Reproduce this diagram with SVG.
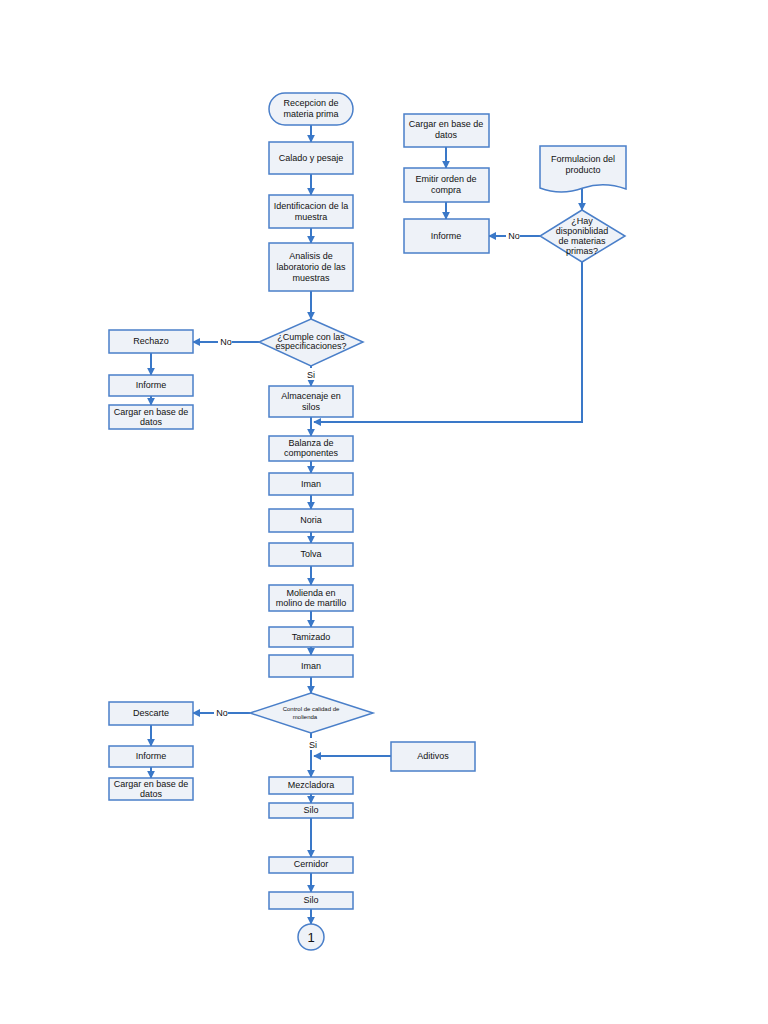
<svg xmlns="http://www.w3.org/2000/svg" width="768" height="1024" viewBox="0 0 768 1024">
<defs>
<marker id="ah" viewBox="0 0 10 10" refX="9" refY="5" markerWidth="4" markerHeight="4" orient="auto"><path d="M0,0 L10,5 L0,10 z" fill="#3a78c8"/></marker>
<style>
.b{fill:#eef2f8;stroke:#4a7fc9;stroke-width:1.5}
.c{fill:none;stroke:#3a78c8;stroke-width:2;marker-end:url(#ah)}
.l{fill:none;stroke:#3a78c8;stroke-width:1.5}
text{font-family:"Liberation Sans",Arial,sans-serif;font-size:9px;fill:#111;text-anchor:middle}
.s{font-size:6px}
</style>
</defs>
<rect width="768" height="1024" fill="#fff"/>
<g id="connectors">
<path class="c" d="M311,125 V142"/><path class="c" d="M311,174 V195"/><path class="c" d="M311,228 V243"/><path class="c" d="M311,291 V319"/>
<path class="c" d="M259,342 H193"/><path class="c" d="M151,353 V375"/><path class="c" d="M151,396 V405"/>
<path class="c" d="M311,366 V386"/><path class="c" d="M311,417 V436"/>
<path class="c" d="M582,262 V422 H314"/>
<path class="c" d="M311,461 V473"/><path class="c" d="M311,495 V509"/><path class="c" d="M311,532 V543"/><path class="c" d="M311,566 V585"/><path class="c" d="M311,611 V627"/><path class="c" d="M311,647 V655"/><path class="c" d="M311,677 V693"/>
<path class="c" d="M250,713 H193"/><path class="c" d="M151,725 V746"/><path class="c" d="M151,767 V778"/>
<path class="c" d="M311,733 V777"/><path class="c" d="M391,756 H314"/>
<path class="c" d="M311,794 V803"/><path class="c" d="M311,818 V857"/><path class="c" d="M311,873 V892"/><path class="c" d="M311,909 V924"/>
<path class="c" d="M446,147 V168"/><path class="c" d="M446,202 V219"/><path class="c" d="M582,188 V210"/><path class="c" d="M540,236 H489"/>
<rect x="218" y="336" width="14" height="11" fill="#fff"/><text x="226" y="345">No</text>
<rect x="214" y="707" width="14" height="11" fill="#fff"/><text x="222" y="716">No</text>
<rect x="506" y="230" width="14" height="11" fill="#fff"/><text x="514" y="239">No</text>
<rect x="305" y="368" width="12" height="12" fill="#fff"/><text x="311" y="378">Si</text>
<rect x="305" y="738" width="12" height="12" fill="#fff"/><text x="313" y="748">Si</text>
</g>
<g id="n1"><rect class="b" x="269" y="93" width="84" height="32" rx="16"/><text x="311" y="106">Recepcion de</text><text x="311" y="117">materia prima</text></g>
<g id="n2"><rect class="b" x="269" y="142" width="84" height="32"/><text x="311" y="161">Calado y pesaje</text></g>
<g id="n3"><rect class="b" x="269" y="195" width="84" height="33"/><text x="311" y="209">Identificacion de la</text><text x="311" y="220">muestra</text></g>
<g id="n4"><rect class="b" x="269" y="243" width="84" height="48"/><text x="311" y="259">Analisis de</text><text x="311" y="270">laboratorio de las</text><text x="311" y="281">muestras</text></g>
<g id="n5"><polygon class="b" points="311,319 363,342 311,366 259,342"/><text x="311" y="340">¿Cumple con las</text><text x="311" y="349">especificaciones?</text></g>
<g id="n6"><rect class="b" x="109" y="330" width="84" height="23"/><text x="151" y="344">Rechazo</text></g>
<g id="n7"><rect class="b" x="109" y="375" width="84" height="21"/><text x="151" y="388">Informe</text></g>
<g id="n8"><rect class="b" x="109" y="405" width="84" height="24"/><text x="151" y="415">Cargar en base de</text><text x="151" y="425">datos</text></g>
<g id="n9"><rect class="b" x="269" y="386" width="84" height="31"/><text x="311" y="399">Almacenaje en</text><text x="311" y="410">silos</text></g>
<g id="n10"><rect class="b" x="269" y="436" width="84" height="25"/><text x="311" y="446">Balanza de</text><text x="311" y="456">componentes</text></g>
<g id="n11"><rect class="b" x="269" y="473" width="84" height="22"/><text x="311" y="487">Iman</text></g>
<g id="n12"><rect class="b" x="269" y="509" width="84" height="23"/><text x="311" y="523">Noria</text></g>
<g id="n13"><rect class="b" x="269" y="543" width="84" height="23"/><text x="311" y="557">Tolva</text></g>
<g id="n14"><rect class="b" x="269" y="585" width="84" height="26"/><text x="311" y="596">Molienda en</text><text x="311" y="606">molino de martillo</text></g>
<g id="n15"><rect class="b" x="269" y="627" width="84" height="20"/><text x="311" y="640">Tamizado</text></g>
<g id="n16"><rect class="b" x="269" y="655" width="84" height="22"/><text x="311" y="669">Iman</text></g>
<g id="n17"><polygon class="b" points="311,693 373,713 311,733 250,713"/><text class="s" x="311" y="711">Control de calidad de</text><text class="s" x="305" y="719">molienda</text></g>
<g id="n18"><rect class="b" x="109" y="702" width="84" height="23"/><text x="151" y="716">Descarte</text></g>
<g id="n19"><rect class="b" x="109" y="746" width="84" height="21"/><text x="151" y="759">Informe</text></g>
<g id="n20"><rect class="b" x="109" y="778" width="84" height="22"/><text x="151" y="787">Cargar en base de</text><text x="151" y="797">datos</text></g>
<g id="n21"><rect class="b" x="391" y="742" width="84" height="29"/><text x="433" y="759">Aditivos</text></g>
<g id="n22"><rect class="b" x="269" y="777" width="84" height="17"/><text x="311" y="788">Mezcladora</text></g>
<g id="n23"><rect class="b" x="269" y="803" width="84" height="15"/><text x="311" y="813">Silo</text></g>
<g id="n24"><rect class="b" x="269" y="857" width="84" height="16"/><text x="311" y="867">Cernidor</text></g>
<g id="n25"><rect class="b" x="269" y="892" width="84" height="17"/><text x="311" y="903">Silo</text></g>
<g id="n26"><circle class="b" cx="311" cy="937" r="13"/><text x="311" y="942" style="font-size:13px">1</text></g>
<g id="n27"><rect class="b" x="404" y="114" width="85" height="33"/><text x="446" y="127">Cargar en base de</text><text x="446" y="138">datos</text></g>
<g id="n28"><rect class="b" x="404" y="168" width="85" height="34"/><text x="446" y="182">Emitir orden de</text><text x="446" y="193">compra</text></g>
<g id="n29"><rect class="b" x="404" y="219" width="85" height="34"/><text x="446" y="239">Informe</text></g>
<g id="n30"><path class="b" d="M540,146 H626 V189 Q604,181 583,188 Q561,196 540,188 Z"/><text x="583" y="162">Formulacion del</text><text x="583" y="173">producto</text></g>
<g id="n31"><polygon class="b" points="582,210 625,236 582,262 540,236"/><text x="582" y="224">¿Hay</text><text x="582" y="234">disponiblidad</text><text x="582" y="244">de materias</text><text x="582" y="254">primas?</text></g>
</svg>
